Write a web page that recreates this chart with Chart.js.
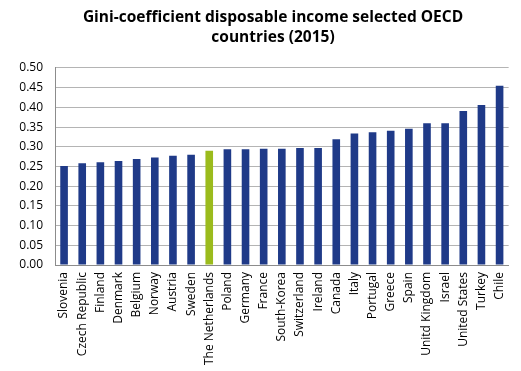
<!DOCTYPE html>
<html>
<head>
<meta charset="utf-8">
<script src="https://cdn.jsdelivr.net/npm/chart.js@4"></script>
<style>
  html, body { margin: 0; padding: 0; background: #fff; }
  #wrap { width: 521px; height: 371px; }
</style>
</head>
<body>
<div id="wrap"><canvas id="giniChart" width="521" height="371"></canvas></div>
<script>
// countries, sorted as in the source chart
const countries = ['Slovenia', 'Czech Republic', 'Finland', 'Denmark', 'Belgium', 'Norway', 'Austria', 'Sweden',
    'The Netherlands', 'Poland', 'Germany', 'France', 'South-Korea', 'Switzerland', 'Ireland', 'Canada', 'Italy',
    'Portugal', 'Greece', 'Spain', 'Unitd Kingdom', 'Israel', 'United States', 'Turkey', 'Chile'];
const giniValues = [0.251, 0.258, 0.261, 0.264, 0.269, 0.273, 0.277, 0.280,
    0.290, 0.294, 0.294, 0.295, 0.295, 0.297, 0.297, 0.319, 0.334,
    0.337, 0.341, 0.346, 0.360, 0.360, 0.391, 0.406, 0.455];
const highlighted = 'The Netherlands';
const titleLines = ['Gini-coefficient disposable income selected OECD', 'countries (2015)'];

const barColors = countries.map(c => c === highlighted ? '#9bbb1c' : '#1f3a88');

// the title in the original sits a bit right of the canvas centre
const shiftTitle = {
    id: 'shiftTitle',
    afterLayout(chart) {
        if (chart.titleBlock) {
            chart.titleBlock.left += 13;
            chart.titleBlock.right += 13;
        }
    }
};

const ctx = document.getElementById('giniChart').getContext('2d');
new Chart(ctx, {
    type: 'bar',
    data: {
        labels: countries,
        datasets: [{
            data: giniValues,
            backgroundColor: barColors,
            borderWidth: 0,
            barPercentage: 0.42,
            categoryPercentage: 1.0
        }]
    },
    options: {
        responsive: false,
        animation: false,
        layout: { padding: { left: 0, right: 1, top: 8, bottom: 0 } },
        plugins: {
            legend: { display: false },
            tooltip: { enabled: false },
            title: {
                display: true,
                text: titleLines,
                color: '#000',
                font: { family: 'Open Sans', size: 15.5, weight: 'bold', lineHeight: 1.29 },
                padding: { top: 0, bottom: 20 }
            }
        },
        scales: {
            x: {
                grid: { display: false, drawTicks: false },
                border: { color: '#8c8c8c' },
                ticks: {
                    color: '#000',
                    font: { family: 'Open Sans', size: 12 },
                    minRotation: 90,
                    maxRotation: 90,
                    autoSkip: false,
                    padding: 7
                },
                afterFit: (scale) => { scale.height = 106; }
            },
            y: {
                min: 0,
                max: 0.5,
                grid: { color: '#b4b4b4', drawTicks: false },
                border: { color: '#8c8c8c' },
                ticks: {
                    stepSize: 0.05,
                    color: '#000',
                    font: { family: 'Open Sans', size: 12 },
                    padding: 12,
                    callback: (v) => v.toFixed(2)
                },
                afterFit: (scale) => { scale.width = 55; }
            }
        }
    },
    plugins: [shiftTitle]
});
</script>
</body>
</html>
